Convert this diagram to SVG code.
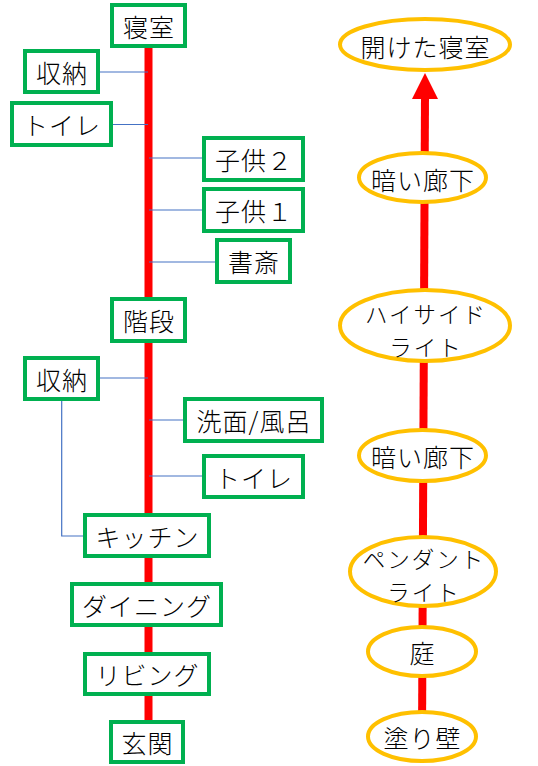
<svg xmlns="http://www.w3.org/2000/svg" width="538" height="766" viewBox="0 0 538 766">
<style>
.box{fill:#fff;stroke:#00B050;stroke-width:4}
.ell{fill:#fff;stroke:#FFC000;stroke-width:4}
.t{font-family:"Noto Sans CJK JP","Noto Sans",sans-serif;font-size:25px;font-weight:300;letter-spacing:1px;fill:#000;text-anchor:middle;dominant-baseline:central}
.t2{font-size:22.5px;letter-spacing:2px}
.red{stroke:#FF0000;stroke-width:8;fill:none}
.blue{stroke:#4472C4;stroke-width:1.2;fill:none}
</style>
<rect width="538" height="766" fill="#fff"/>
<g id="connectors">
<line class="red" x1="148.5" y1="40" x2="148.5" y2="730"/>
<line class="red" x1="422" y1="740" x2="425" y2="96"/>
<polygon points="425,73 412,99 438,99" fill="#FF0000"/>
<line class="blue" x1="100" y1="72" x2="148" y2="72"/>
<line class="blue" x1="113" y1="124.5" x2="148" y2="124.5"/>
<line class="blue" x1="149" y1="158" x2="202" y2="158"/>
<line class="blue" x1="149" y1="210" x2="202" y2="210"/>
<line class="blue" x1="149" y1="262" x2="215" y2="262"/>
<line class="blue" x1="100" y1="378" x2="148" y2="378"/>
<line class="blue" x1="149" y1="420" x2="183" y2="420"/>
<line class="blue" x1="149" y1="476" x2="202" y2="476"/>
<polyline class="blue" points="61.7,401 61.7,536 83,536"/>
</g>
<g id="n-shinshitsu"><rect class="box" x="112" y="5" width="73" height="41"/><text class="t" x="149" y="25.5">寝室</text></g>
<g id="n-shuno1"><rect class="box" x="25" y="51" width="73" height="41"/><text class="t" x="62" y="71.5">収納</text></g>
<g id="n-toilet1"><rect class="box" x="12" y="103" width="99" height="42"/><text class="t" x="62" y="124">トイレ</text></g>
<g id="n-kodomo2"><rect class="box" x="204" y="138" width="99" height="42"/><text class="t" x="254" y="159">子供２</text></g>
<g id="n-kodomo1"><rect class="box" x="204" y="189" width="99" height="42"/><text class="t" x="254" y="210">子供１</text></g>
<g id="n-shosai"><rect class="box" x="217" y="240" width="73" height="42"/><text class="t" x="254" y="261">書斎</text></g>
<g id="n-kaidan"><rect class="box" x="112" y="299" width="73" height="42"/><text class="t" x="149" y="320">階段</text></g>
<g id="n-shuno2"><rect class="box" x="25" y="358" width="73" height="41"/><text class="t" x="62" y="378.5">収納</text></g>
<g id="n-senmen"><rect class="box" x="185" y="399" width="137" height="42"/><text class="t" x="254" y="420">洗面/風呂</text></g>
<g id="n-toilet2"><rect class="box" x="204" y="456" width="99" height="41"/><text class="t" x="254" y="476.5">トイレ</text></g>
<g id="n-kitchen"><rect class="box" x="85" y="515" width="124" height="41"/><text class="t" x="147.5" y="535.5">キッチン</text></g>
<g id="n-dining"><rect class="box" x="72" y="584" width="149" height="41"/><text class="t" x="147" y="604.5">ダイニング</text></g>
<g id="n-living"><rect class="box" x="85" y="654" width="124" height="40"/><text class="t" x="147.5" y="674">リビング</text></g>
<g id="n-genkan"><rect class="box" x="111" y="722" width="72" height="40"/><text class="t" x="147.5" y="742">玄関</text></g>
<g id="e-aketa"><ellipse class="ell" cx="425" cy="44.5" rx="85" ry="25.5"/><text class="t" x="425.5" y="46">開けた寝室</text></g>
<g id="e-kurai1"><ellipse class="ell" cx="422.5" cy="177.5" rx="63.5" ry="24.5"/><text class="t" x="423" y="178.5">暗い廊下</text></g>
<g id="e-highside"><ellipse class="ell" cx="425" cy="325.5" rx="85" ry="35.5"/><text class="t t2" x="426" y="312.5">ハイサイド</text><text class="t t2" x="426" y="345.5">ライト</text></g>
<g id="e-kurai2"><ellipse class="ell" cx="422.5" cy="455.5" rx="63.5" ry="25.5"/><text class="t" x="423" y="456">暗い廊下</text></g>
<g id="e-pendant"><ellipse class="ell" cx="423" cy="571.5" rx="73" ry="34.5"/><text class="t t2" x="424" y="557.5">ペンダント</text><text class="t t2" x="424" y="590.5">ライト</text></g>
<g id="e-niwa"><ellipse class="ell" cx="422" cy="651.5" rx="54" ry="24.5"/><text class="t" x="422.5" y="652">庭</text></g>
<g id="e-nurikabe"><ellipse class="ell" cx="422" cy="736.5" rx="54" ry="24.5"/><text class="t" x="422.5" y="737">塗り壁</text></g>
</svg>
